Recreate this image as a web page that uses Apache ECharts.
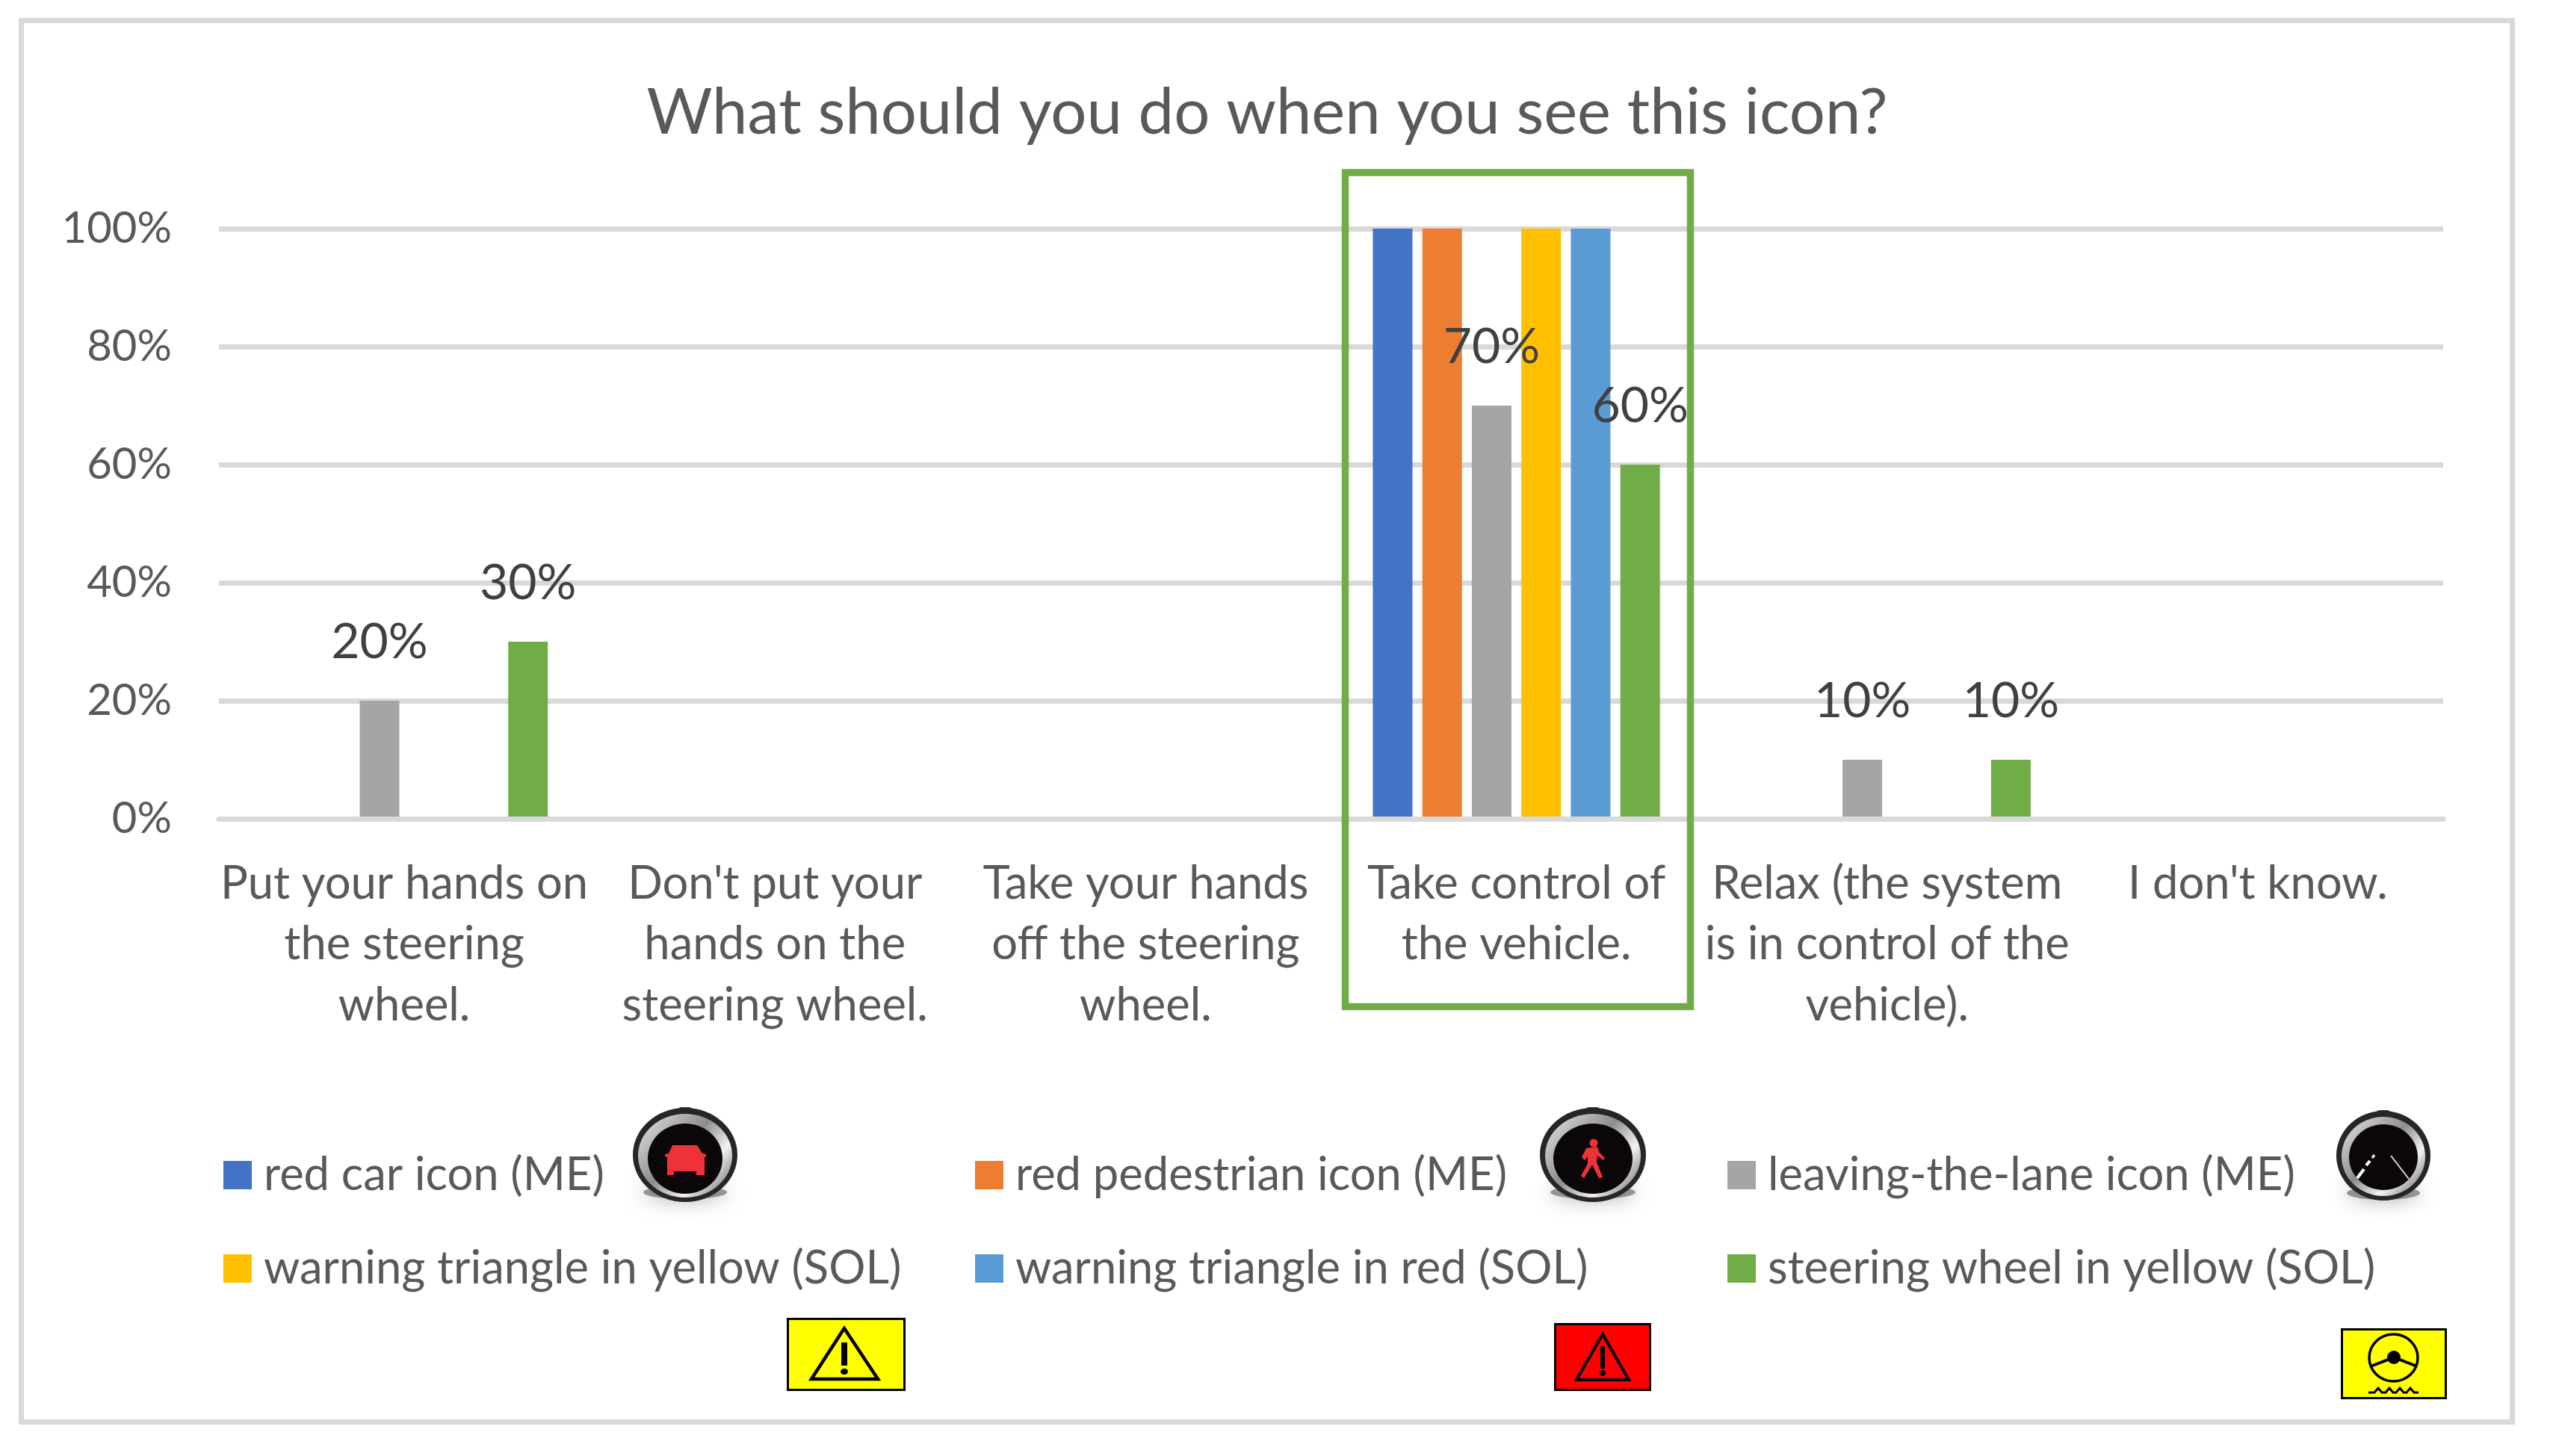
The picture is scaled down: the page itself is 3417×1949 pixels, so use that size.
<!DOCTYPE html>
<html>
<head>
<meta charset="utf-8">
<title>What should you do when you see this icon?</title>
<script src="https://cdn.jsdelivr.net/npm/echarts@6/dist/echarts.min.js"></script>
<style>
    html, body { margin: 0; padding: 0; background: #fff; }
    #chart { width: 3417px; height: 1949px; }
</style>
</head>
<body>
<div id="chart"></div>
<script>
// Chart data
const titleText = 'What should you do when you see this icon?';
const categories = [
    'Put your hands on\nthe steering\nwheel.',
    "Don't put your\nhands on the\nsteering wheel.",
    'Take your hands\noff the steering\nwheel.',
    'Take control of\nthe vehicle.',
    'Relax (the system\nis in control of the\nvehicle).',
    "I don't know."
];
const redCar = [0, 0, 0, 100, 0, 0];
const redPedestrian = [0, 0, 0, 100, 0, 0];
const leavingLane = [20, 0, 0, 70, 10, 0];
const triangleYellow = [0, 0, 0, 100, 0, 0];
const triangleRed = [0, 0, 0, 100, 0, 0];
const wheelYellow = [30, 0, 0, 60, 10, 0];

const FONT = 'Lato';
const TEXT = '#595959';
const RULE = '#d9d9d9';
const GREEN = '#70ad47';

function makeSeries(name, values, color, labelled) {
    return {
        name: name,
        type: 'bar',
        data: values,
        barWidth: 53,
        barGap: '25%',
        itemStyle: { color: color },
        label: {
            show: labelled,
            position: 'top',
            distance: 45,
            fontFamily: FONT,
            fontSize: 66,
            color: '#404040',
            formatter: function (p) { return p.value ? p.value + '%' : ''; }
        }
    };
}

function makeLegend(left, names) {
    return {
        left: left,
        top: 1542,
        orient: 'vertical',
        align: 'left',
        padding: 0,
        selectedMode: false,
        data: names,
        icon: 'rect',
        itemWidth: 38,
        itemHeight: 38,
        itemGap: 63,
        textStyle: {
            fontFamily: FONT,
            fontSize: 61.5,
            color: TEXT,
            lineHeight: 38,
            padding: [0, 0, 0, 11]
        }
    };
}

// Icons next to the legend, drawn as plain shapes
function polygon(points, fill) {
    return { type: 'polygon', shape: { points: points }, style: { fill: fill } };
}

function dial(cx, cy, rx, ry, innerRx, innerRy, innerCy) {
    return [
        {
            type: 'ellipse',
            shape: { cx: cx, cy: cy + 50, rx: rx - 14, ry: 9 },
            style: { fill: 'rgba(90,90,90,0.6)', shadowBlur: 26, shadowColor: '#666' }
        },
        { type: 'rect', shape: { x: cx - 9, y: cy - ry - 1, width: 18, height: 12, r: 4 }, style: { fill: '#3a3a3a' } },
        { type: 'ellipse', shape: { cx: cx, cy: cy, rx: rx, ry: ry }, style: { fill: '#262626' } },
        {
            type: 'ellipse',
            shape: { cx: cx, cy: cy + 1, rx: rx - 7, ry: ry - 7 },
            style: {
                fill: {
                    type: 'linear', x: 0, y: 0, x2: 1, y2: 1,
                    colorStops: [
                        { offset: 0, color: '#e8e8e8' },
                        { offset: 0.45, color: '#8c8c8c' },
                        { offset: 0.7, color: '#f2f2f2' },
                        { offset: 1, color: '#555' }
                    ]
                }
            }
        },
        { type: 'ellipse', shape: { cx: cx, cy: innerCy, rx: innerRx, ry: innerRy }, style: { fill: '#0b0708' } }
    ];
}

function warningSign(x, y, w, h, bg, apex, baseL, baseR, barW, barTop, barBottom, dotY, stroke) {
    return [
        { type: 'rect', shape: { x: x + 1.5, y: y + 1.5, width: w - 3, height: h - 3 }, style: { fill: bg, stroke: '#000', lineWidth: 3 } },
        { type: 'polygon', shape: { points: [apex, baseL, baseR] }, style: { fill: 'none', stroke: '#000', lineWidth: stroke, lineJoin: 'miter' } },
        { type: 'rect', shape: { x: apex[0] - barW / 2, y: barTop, width: barW, height: barBottom - barTop }, style: { fill: '#000' } },
        { type: 'ellipse', shape: { cx: apex[0], cy: dotY, rx: barW / 2 + 1, ry: 4 }, style: { fill: '#000' } }
    ];
}

function iconGraphics() {
    const red = '#ee3338';
    let out = [];

    // red car
    out = out.concat(dial(917, 1546, 70, 63, 50, 47, 1551));
    out.push(polygon([[900, 1533], [933, 1533], [940, 1544], [945, 1545], [945, 1548], [943, 1549], [943, 1573],
        [932, 1573], [932, 1568], [902, 1568], [902, 1573], [893, 1573], [893, 1549], [890, 1548], [890, 1545], [895, 1544]], red));

    // red pedestrian
    out = out.concat(dial(2132, 1546, 71, 63, 53, 47, 1551));
    out.push({ type: 'circle', shape: { cx: 2133, cy: 1530, r: 5.5 }, style: { fill: red } });
    out.push(polygon([[2123, 1537], [2138, 1535], [2140, 1542], [2148, 1550], [2146, 1553], [2138, 1547], [2137, 1555],
        [2145, 1576], [2140, 1577], [2131, 1559], [2120, 1577], [2116, 1574], [2125, 1558], [2125, 1548], [2121, 1553], [2117, 1549]], red));

    // leaving the lane
    out = out.concat(dial(3190, 1547, 63, 60, 46, 44, 1549));
    out.push({ type: 'line', shape: { x1: 3155, y1: 1577, x2: 3164, y2: 1565 }, style: { stroke: '#fff', lineWidth: 4 } });
    out.push({ type: 'line', shape: { x1: 3167, y1: 1560, x2: 3172, y2: 1554 }, style: { stroke: '#fff', lineWidth: 4 } });
    out.push({ type: 'line', shape: { x1: 3175, y1: 1550, x2: 3178, y2: 1546 }, style: { stroke: '#fff', lineWidth: 3 } });
    out.push({ type: 'line', shape: { x1: 3200, y1: 1547, x2: 3224, y2: 1578 }, style: { stroke: '#ddd', lineWidth: 2 } });

    // warning triangles
    out = out.concat(warningSign(1053, 1764, 159, 98, '#ffff00', [1130, 1778], [1086, 1846], [1175, 1846], 8, 1797, 1828, 1836, 4.5));
    out = out.concat(warningSign(2080, 1771, 130, 91, '#ff0000', [2145, 1786], [2110, 1847], [2180, 1847], 6, 1802, 1832, 1838, 4));

    // steering wheel
    out.push({ type: 'rect', shape: { x: 3134.5, y: 1779.5, width: 139, height: 92 }, style: { fill: '#ffff00', stroke: '#000', lineWidth: 3 } });
    out.push({ type: 'ellipse', shape: { cx: 3203.5, cy: 1817.5, rx: 32.5, ry: 31.5 }, style: { fill: 'none', stroke: '#000', lineWidth: 3.5 } });
    out.push({ type: 'circle', shape: { cx: 3204, cy: 1817, r: 9 }, style: { fill: '#000' } });
    out.push({ type: 'polyline', shape: { points: [[3173, 1829], [3204, 1817], [3235, 1829]] }, style: { fill: 'none', stroke: '#000', lineWidth: 4 } });
    out.push({
        type: 'polyline',
        shape: {
            points: [[3170, 1864], [3178, 1864], [3183, 1858], [3188, 1864], [3193, 1864], [3198, 1858], [3203, 1864],
                [3207, 1864], [3212, 1858], [3217, 1864], [3221, 1864], [3226, 1858], [3231, 1864], [3237, 1864]]
        },
        style: { fill: 'none', stroke: '#000', lineWidth: 3 }
    });
    return out;
}

const myChart = echarts.init(document.getElementById('chart'));

const option = {
    backgroundColor: '#fff',
    animation: false,
    title: {
        text: titleText,
        left: 1691,
        top: 104,
        textAlign: 'center',
        textStyle: { fontFamily: FONT, fontWeight: 'normal', fontSize: 85, color: TEXT }
    },
    grid: { left: 293, top: 306, width: 2977, height: 790, containLabel: false },
    legend: [
        makeLegend(299, ['red car icon (ME)', 'warning triangle in yellow (SOL)']),
        makeLegend(1305, ['red pedestrian icon (ME)', 'warning triangle in red (SOL)']),
        makeLegend(2312, ['leaving-the-lane icon (ME)', 'steering wheel in yellow (SOL)'])
    ],
    xAxis: {
        type: 'category',
        data: categories,
        z: 3,
        axisTick: { show: false },
        // the zero line sits on top of the bars, as in the original
        axisLine: { show: true, lineStyle: { color: RULE, width: 7 } },
        axisLabel: {
            interval: 0,
            margin: 46,
            fontFamily: FONT,
            fontSize: 61.5,
            lineHeight: 81.5,
            color: TEXT,
            verticalAlign: 'top'
        }
    },
    yAxis: {
        type: 'value',
        min: 0,
        max: 100,
        interval: 20,
        axisLine: { show: false },
        axisTick: { show: false },
        axisLabel: {
            margin: 63,
            fontFamily: FONT,
            fontSize: 58,
            color: TEXT,
            formatter: '{value}%'
        },
        splitLine: { show: true, lineStyle: { color: RULE, width: 7 } }
    },
    series: [
        makeSeries('red car icon (ME)', redCar, '#4472c4', false),
        makeSeries('red pedestrian icon (ME)', redPedestrian, '#ed7d31', false),
        makeSeries('leaving-the-lane icon (ME)', leavingLane, '#a5a5a5', true),
        makeSeries('warning triangle in yellow (SOL)', triangleYellow, '#ffc000', false),
        makeSeries('warning triangle in red (SOL)', triangleRed, '#5b9bd5', false),
        makeSeries('steering wheel in yellow (SOL)', wheelYellow, GREEN, true)
    ],
    graphic: [
        // outer chart border
        {
            type: 'rect',
            silent: true,
            shape: { x: 28.5, y: 27.5, width: 3334, height: 1876 },
            style: { fill: 'none', stroke: RULE, lineWidth: 7 }
        },
        // green highlight box around the fourth category
        {
            type: 'rect',
            silent: true,
            z: 10,
            shape: { x: 1800.5, y: 231, width: 462, height: 1116.5 },
            style: { fill: 'none', stroke: GREEN, lineWidth: 9.5 }
        }
    ].concat(iconGraphics())
};

myChart.setOption(option);
</script>
</body>
</html>
